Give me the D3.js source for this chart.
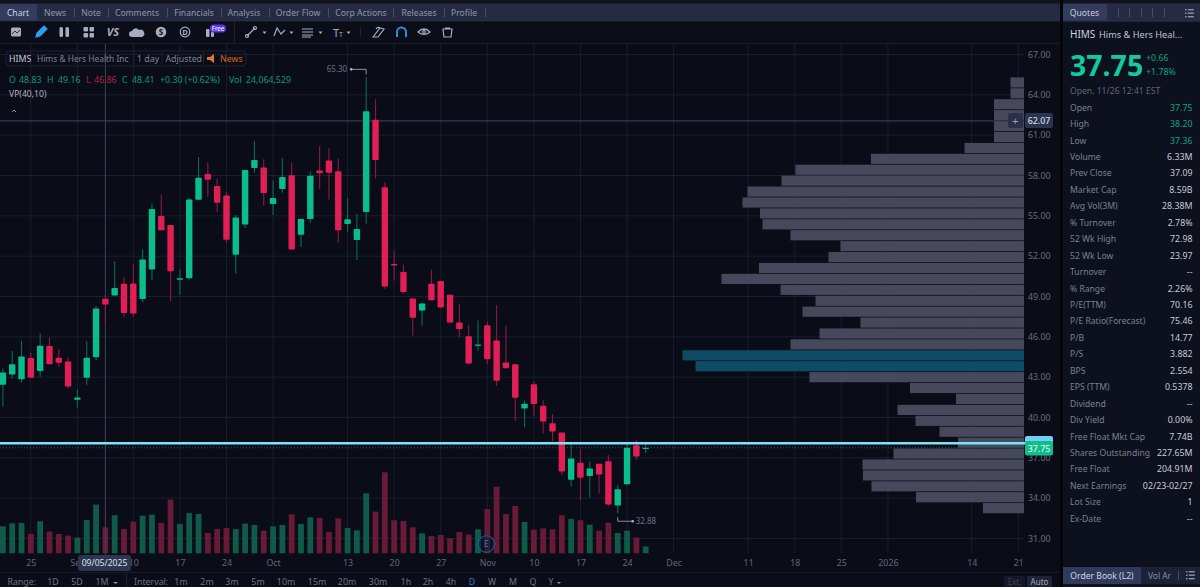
<!DOCTYPE html>
<html><head><meta charset="utf-8">
<script src="https://cdn.jsdelivr.net/npm/d3@7/dist/d3.min.js"></script>
<style>
html,body{margin:0;padding:0;background:#0a0d18;overflow:hidden}
svg{display:block}
text{font-family:"Noto Sans",sans-serif}
</style></head><body>
<svg id="c" width="1200" height="587"></svg>
<script>
const candleOpen=[42.43,43.20,42.85,44.42,43.45,45.31,44.44,44.17,41.32,42.95,44.49,48.83,49.08,49.95,49.97,48.81,51.01,54.98,54.31,50.25,50.35,56.20,58.11,57.22,56.52,52.11,54.36,58.55,58.60,55.88,56.99,58.01,53.59,54.76,58.38,59.12,58.31,54.39,53.20,55.28,62.15,57.12,51.41,50.82,48.86,47.96,49.95,50.15,49.13,47.07,46.05,45.34,46.87,45.73,44.09,43.97,40.67,42.48,40.87,39.58,38.89,35.37,36.63,35.64,36.56,36.75,33.45,35.04,37.94,37.75];
const candleHigh=[43.65,44.94,45.71,44.84,46.28,45.93,45.09,44.47,42.11,45.68,48.29,49.16,51.61,50.47,51.44,52.50,55.92,56.55,54.34,51.01,56.32,59.37,58.98,57.74,56.77,55.07,58.43,60.59,59.20,57.64,59.30,58.95,54.81,58.28,60.17,60.02,59.25,56.30,55.16,65.30,63.66,57.49,52.43,51.36,48.86,48.56,50.99,50.17,49.15,48.46,46.90,47.22,47.12,48.34,46.82,44.00,41.27,42.68,41.27,40.23,38.89,38.07,37.65,36.73,36.56,37.20,34.97,38.07,38.32,38.20];
const candleLow=[40.80,42.90,42.58,42.95,43.03,43.97,43.75,42.16,40.72,42.43,44.24,46.86,49.08,47.44,47.49,48.56,50.22,53.92,48.66,49.13,50.27,56.15,56.40,55.28,53.00,50.67,54.09,58.21,55.75,55.06,56.72,52.50,52.68,54.46,56.99,56.22,53.00,53.82,51.71,54.41,57.79,49.58,50.17,49.23,46.10,46.85,48.73,48.14,47.02,45.96,44.00,44.96,43.97,42.36,43.65,39.78,39.28,40.15,38.81,38.24,35.71,34.84,33.85,34.05,34.35,33.43,32.88,34.94,36.83,37.36];
const candleClose=[43.35,43.97,44.54,42.95,45.34,43.97,44.07,42.31,41.49,44.44,48.11,48.41,49.63,47.77,47.74,51.76,55.50,53.92,50.87,50.35,56.22,57.84,57.69,55.98,53.22,54.88,58.41,59.15,56.69,56.32,57.88,52.50,54.76,57.98,58.16,58.21,53.92,54.74,54.02,62.77,59.15,49.75,51.31,49.33,47.42,48.48,48.73,48.19,47.07,46.58,44.02,45.43,44.34,42.73,43.67,41.47,41.02,41.00,39.71,38.96,35.99,36.95,35.51,36.21,35.76,33.53,34.67,37.75,37.09,37.75];
const volumeM=[25.0,27.8,28.1,17.9,29.6,20.1,17.9,16.4,14.5,30.9,45.1,24.06,35.2,22.5,29.3,34.9,35.8,28.1,49.7,27.2,37.3,36.4,18.8,22.5,23.5,22.5,27.5,26.2,21.0,25.0,26.2,36.1,27.2,33.3,32.7,19.8,32.4,23.5,21.3,55.6,38.6,75.0,30.6,29.9,24.1,18.5,16.0,17.0,13.9,19.8,17.3,22.2,41.0,61.7,36.4,43.8,29.0,21.9,23.1,22.2,35.2,31.8,30.6,26.5,21.0,28.4,18.8,21.0,14.5,6.33];
const vpVolume=[2.7,2.7,6,6,6,6,11.9,30.6,45.7,48.5,55.3,56.3,52.8,52.3,46.7,36.7,39.1,53,60.5,48.7,41.7,44.3,32.7,40.9,46.7,68.3,65.7,42.9,22.8,13.6,25.3,21.7,16.9,13.2,26.1,32.3,32.2,30.5,21.6,8.2];
const vpValueArea=[25,26];
const priceTicks=[67,64,61,58,55,52,49,46,43,40,37,34,31];
const dateTickIndex=[3,8,14,19,24,29,37,42,47,52,57,62,67,72,80,85,90,95,104,109];
const dateTickLabels=['25','Sep','10','17','24','Oct','13','20','27','Nov','10','17','24','Dec','11','18','25','2026','14','21'];
const tabNames=['News','Note','Comments','Financials','Analysis','Order Flow','Corp Actions','Releases','Profile'];
const tabCenters=[55,91,137,194,244,298,361,419,464];
const tabSeps=[74,108,167,221,269,328,393,444,485];
const rangeNames=['1D','5D','1M'];
const rangeCenters=[53,77,102];
const intervalNames=['1m','2m','3m','5m','10m','15m','20m','30m','1h','2h','4h','D','W','M','Q','Y'];
const intervalCenters=[181,207,232,258,286,317,347,378,406,428,451,472,492,513,533,551];
const quoteLabels=['Open','High','Low','Volume','Prev Close','Market Cap','Avg Vol(3M)','% Turnover','52 Wk High','52 Wk Low','Turnover','% Range','P/E(TTM)','P/E Ratio(Forecast)','P/B','P/S','BPS','EPS (TTM)','Dividend','Div Yield','Free Float Mkt Cap','Shares Outstanding','Free Float','Next Earnings','Lot Size','Ex-Date'];
const quoteValues=['37.75','38.20','37.36','6.33M','37.09','8.59B','28.38M','2.78%','72.98','23.97','--','2.26%','70.16','75.46','14.77','3.882','2.554','0.5378','--','0.00%','7.74B','227.65M','204.91M','02/23-02/27','1','--'];
const lastPrice=37.75, crossPrice=62.07, drawnLevel=38.09, crossIndex=11, highIndex=39, lowIndex=66, vpHigh=65.30, vpLow=32.88;

const GREEN='#0bbd8a',RED='#e11f55',GW='#0a6b52',RW='#8c1b40',VG='#0f5a49',VR='#681a37';
const svg=d3.select('#c');
const F='"Noto Sans",sans-serif';
const txt=(s,x,y,t,o={})=>s.append('text').attr('x',x).attr('y',y).text(t)
  .attr('font-size',o.size||8.8).attr('fill',o.fill||'#8a8ea2').attr('text-anchor',o.anchor||'start')
  .attr('font-weight',o.weight||400).attr('font-family',F);
const rect=(s,x,y,w,h,f,r=0)=>s.append('rect').attr('x',x).attr('y',y).attr('width',w).attr('height',h).attr('fill',f).attr('rx',r);

rect(svg,0,0,1200,587,'#0a0d18');

const x=d3.scaleLinear().domain([0,109]).range([2.9,1018.3]);
const y=d3.scaleLinear().domain([31,67]).range([538.5,54.5]);
const yVol=d3.scaleLinear().domain([0,75]).range([553.3,472.3]);
const vpBand=d3.scaleBand().domain(d3.range(vpVolume.length)).range([y(vpHigh),y(vpLow)]).paddingInner(0.07);
const vpW=d3.scaleLinear().domain([0,68.3]).range([0,341.5]);
const VP_RIGHT=1024;

// grid
const plot=svg.append('g');
plot.append('g').selectAll('line').data(priceTicks).join('line')
  .attr('x1',0).attr('x2',1024).attr('y1',d=>y(d)).attr('y2',d=>y(d)).attr('stroke','#1a1e2e');
plot.append('g').selectAll('line').data(dateTickIndex).join('line')
  .attr('x1',d=>x(d)).attr('x2',d=>x(d)).attr('y1',44).attr('y2',553).attr('stroke','#1a1e2e');

// volume
plot.append('g').selectAll('rect').data(volumeM).join('rect')
  .attr('x',(d,i)=>x(i)-2.9).attr('width',5.8).attr('y',d=>yVol(d)).attr('height',d=>yVol(0)-yVol(d))
  .attr('fill',(d,i)=>candleClose[i]>=candleOpen[i]?VG:VR);

// volume profile
plot.append('g').selectAll('rect').data(vpVolume).join('rect')
  .attr('x',d=>VP_RIGHT-vpW(d)).attr('width',d=>vpW(d))
  .attr('y',(d,i)=>vpBand(i)).attr('height',vpBand.bandwidth())
  .attr('fill',(d,i)=>vpValueArea.includes(i)?'#0f4f6b':'#4b4c60').attr('fill-opacity',0.95);

// crosshair + levels
plot.append('line').attr('x1',x(crossIndex)).attr('x2',x(crossIndex)).attr('y1',44).attr('y2',556).attr('stroke','#3d4460');
plot.append('line').attr('x1',0).attr('x2',1024).attr('y1',y(crossPrice)).attr('y2',y(crossPrice)).attr('stroke','#343a55').attr('stroke-width',1.2);
plot.append('line').attr('x1',0).attr('x2',1024).attr('y1',y(lastPrice)).attr('y2',y(lastPrice)).attr('stroke','#0e6a55').attr('stroke-dasharray','1 2');

// candles
const cg=plot.append('g');
const idx=d3.range(candleOpen.length);
cg.selectAll('line').data(idx).join('line')
  .attr('x1',i=>x(i)).attr('x2',i=>x(i)).attr('y1',i=>y(candleHigh[i])).attr('y2',i=>y(candleLow[i]))
  .attr('stroke',i=>candleClose[i]>=candleOpen[i]?GW:RW).attr('stroke-width',1.1);
cg.selectAll('rect').data(idx).join('rect')
  .attr('x',i=>x(i)-3.2).attr('width',6.4).attr('rx',0.8)
  .attr('y',i=>y(Math.max(candleOpen[i],candleClose[i])))
  .attr('height',i=>Math.max(1.3,Math.abs(y(candleOpen[i])-y(candleClose[i]))))
  .attr('fill',i=>candleClose[i]>=candleOpen[i]?GREEN:RED);

plot.append('line').attr('x1',0).attr('x2',1025).attr('y1',y(drawnLevel)).attr('y2',y(drawnLevel)).attr('stroke','#7fe3f8').attr('stroke-width',2.5);

// high / low marks
const mk=plot.append('g').attr('fill','none').attr('stroke','#8a8ea2');
const hx=x(highIndex),hy=y(candleHigh[highIndex]);
mk.append('path').attr('d',d3.line()([[hx-15,hy-8],[hx,hy-8],[hx,hy-3]]));
plot.append('circle').attr('cx',hx-15).attr('cy',hy-8).attr('r',1.3).attr('fill','#b0b4c4');
txt(plot,hx-19,hy-5.5,candleHigh[highIndex].toFixed(2),{anchor:'end',size:8,fill:'#6d7184'});
const lx=x(lowIndex),ly=y(candleLow[lowIndex]);
mk.append('path').attr('d',d3.line()([[lx,ly+4],[lx,ly+8],[lx+15,ly+8]]));
plot.append('circle').attr('cx',lx+15).attr('cy',ly+8).attr('r',1.3).attr('fill','#b0b4c4');
txt(plot,lx+18,ly+11,candleLow[lowIndex].toFixed(2),{size:8,fill:'#6d7184'});

// earnings marker
plot.append('circle').attr('cx',486.3).attr('cy',544).attr('r',8.2).attr('fill','#0a1a2c').attr('fill-opacity',.55).attr('stroke','#13609a').attr('stroke-width',1.1);
txt(plot,486.3,547,'E',{anchor:'middle',size:8.5,fill:'#2a7fc0'});

// axes
const yAxis=d3.axisRight(y).tickValues(priceTicks).tickSize(0).tickPadding(0).tickFormat(d=>d.toFixed(2));
const ya=svg.append('g').attr('transform','translate(1028,0)').call(yAxis);
ya.select('.domain').remove();
ya.selectAll('text').attr('font-size',8.8).attr('fill','#6a6e80').attr('font-family',F);
const xAxis=d3.axisBottom(x).tickValues(dateTickIndex).tickSize(0).tickPadding(0).tickFormat((d,i)=>dateTickLabels[i]);
const xa=svg.append('g').attr('transform','translate(0,560)').call(xAxis);
xa.select('.domain').remove();
xa.selectAll('text').attr('font-size',8.8).attr('fill','#62667a').attr('font-family',F);

// price tags
rect(svg,1008,113,15,15,'#2a3048',2);
txt(svg,1015.5,124.5,'+',{anchor:'middle',size:11,fill:'#9aa0b8'});
rect(svg,1025,113,28,15,'#2a3350',2);
txt(svg,1039,123.8,crossPrice.toFixed(2),{anchor:'middle',fill:'#d8dbe6',weight:500});
rect(svg,1025,436,28,14,'#6fcff5',2);
rect(svg,1025,441,28,14.5,'#10bd8c',2);
txt(svg,1039,451.5,lastPrice.toFixed(2),{anchor:'middle',fill:'#e8fff8'});

// date tag
rect(svg,78,555,53,16,'#2d3650',3);
txt(svg,104.5,566,'09/05/2025',{anchor:'middle',size:8.6,fill:'#dfe2ec'});

// top bars
rect(svg,0,0,1200,3.5,'#11131f');
rect(svg,0,3.5,1200,17,'#262b44');
rect(svg,0,20.5,1200,1,'#3a3f5a');
rect(svg,0,21.5,1060,22,'#0b0e18');
rect(svg,0,43,1060,1,'#171b2a');
rect(svg,0,4,37,16.5,'#333c5c',1);
txt(svg,18,15.8,'Chart',{anchor:'middle',size:8.6,fill:'#d0d4e2'});
tabNames.forEach((n,i)=>txt(svg,tabCenters[i],15.8,n,{anchor:'middle',size:8.6,fill:'#9094aa'}));
tabSeps.forEach(s=>rect(svg,s,8,1,9,'#474c66'));

// toolbar icons
const ic=svg.append('g').attr('fill','none').attr('stroke','#a8acbe').attr('stroke-width',1.2);
rect(svg,11,27.5,10,9,'#a8acbe',1.5);
svg.append('path').attr('d','M12 34l3-3 2 2 3-3').attr('fill','none').attr('stroke','#2b3048');
ic.append('path').attr('d','M36 37l1-4 7-7 3 3-7 7z').attr('fill','#2aa0ee').attr('stroke','#2aa0ee');
rect(svg,59.5,27,3.5,10,'#a8acbe',1.5);rect(svg,65.5,27,3.5,10,'#a8acbe',1.5);
rect(svg,83.5,27,4.5,4.5,'#a8acbe',1);rect(svg,89.5,27,4.5,4.5,'#a8acbe',1);
rect(svg,83.5,33,4.5,4.5,'#a8acbe',1);rect(svg,89.5,33,4.5,4.5,'#a8acbe',1);
txt(svg,113,36,'VS',{anchor:'middle',size:11,weight:700,fill:'#a8acbe'}).attr('font-style','italic');
svg.append('path').attr('d','M132 37a3 3 0 0 1 0-6 4 4 0 0 1 7-1 3.5 3.5 0 0 1 3 7z').attr('fill','#a8acbe');
svg.append('circle').attr('cx',161).attr('cy',32).attr('r',5.3).attr('fill','#a8acbe');
txt(svg,161,35,'S',{anchor:'middle',size:8,weight:700,fill:'#0b0e18'});
ic.append('circle').attr('cx',185).attr('cy',32).attr('r',4.8);
txt(svg,185,35,'D',{anchor:'middle',size:7.5,weight:700,fill:'#a8acbe'});
rect(svg,206,29,3.5,8,'#a8acbe',1);rect(svg,211,32,3,5,'#a8acbe',1);
rect(svg,210,24.5,16,8,'#5a35e8',4);
txt(svg,218,31,'Free',{anchor:'middle',size:6.2,fill:'#ffffff'});
rect(svg,234,22,1,21,'#1c2030');
ic.append('path').attr('d','M247 36l8-8');ic.append('circle').attr('cx',247).attr('cy',36).attr('r',1.5);ic.append('circle').attr('cx',255).attr('cy',28).attr('r',1.5);
ic.append('path').attr('d','M274 36l3-8 4 6 4-4');
ic.append('path').attr('d','M302 29h11M302 32h11M302 35h11M302 37h9');
txt(svg,336,37,'T',{anchor:'middle',size:11,fill:'#a8acbe'});
txt(svg,341,37,'T',{anchor:'middle',size:7,fill:'#a8acbe'});
[264,291,320,348].forEach(a=>svg.append('path').attr('d',`M${a-1.5} 31.5h4l-2 2.4z`).attr('fill','#a8acbe'));
rect(svg,360,27,1,10,'#1c2030');
ic.append('path').attr('d','M373 37l7-9 4 1-6 8zM376 29a3 3 0 0 1 4-1');
svg.append('path').attr('d','M397 37v-5a4.5 4.5 0 0 1 9 0v5').attr('fill','none').attr('stroke','#2b8fe0').attr('stroke-width',2);
ic.append('path').attr('d','M418 32q6-6 12 0q-6 5-12 0z');ic.append('circle').attr('cx',424).attr('cy',32).attr('r',1.4);
ic.append('path').attr('d','M443 29h9l-1 8h-7zM445 28h5');

// chart header
const hb=svg.append('g');
hb.append('rect').attr('x',6).attr('y',51).attr('width',240).attr('height',15).attr('rx',3).attr('fill','none').attr('stroke','#1c2030');
[133.5,161.5,203].forEach(s=>rect(hb,s,52,1,13,'#1c2030'));
txt(hb,9,62,'HIMS',{fill:'#c6c9d6'});
txt(hb,37,62,'Hims & Hers Health Inc',{fill:'#7f8396',size:8.4});
txt(hb,137,62,'1 day',{fill:'#7f8396'});
txt(hb,165.5,62,'Adjusted',{fill:'#7f8396'});
hb.append('path').attr('d','M207 57h3l4-3v9l-4-3h-3z').attr('fill','#e0782a');
txt(hb,220,62,'News',{fill:'#d8681f'});
const G2='#0a9a75',R2='#b81e4b';
[['O',9,G2],['48.83',19,G2],['H',47,G2],['49.16',58,G2],['L',86,R2],['46.86',94,R2],['C',122,G2],['48.41',132,G2],['+0.30 (+0.62%)',160,G2],['Vol',229,G2],['24,064,529',246,G2]]
  .forEach(d=>txt(svg,d[1],83,d[0],{fill:d[2]}));
txt(svg,9,97,'VP(40,10)',{fill:'#b0b3c2',size:8.6});
svg.append('path').attr('d','M12 112l2-2 2 2').attr('fill','none').attr('stroke','#8a8ea2');

// bottom bar
rect(svg,0,572,1060,15,'#0a0d18');
rect(svg,0,572,1060,1,'#171b2a');
rect(svg,126,574,1,13,'#1c2030');
txt(svg,7.5,585,'Range:',{fill:'#6e7286'});
rangeNames.forEach((n,i)=>txt(svg,rangeCenters[i],585,n,{anchor:'middle',fill:'#6e7286'}));
svg.append('path').attr('d','M113 582h5l-2.5 2z').attr('fill','#9094aa');
txt(svg,134,585,'Interval:',{fill:'#6e7286'});
intervalNames.forEach((n,i)=>txt(svg,intervalCenters[i],585,n,{anchor:'middle',fill:n==='D'?'#1e7fd0':'#6e7286'}));
svg.append('path').attr('d','M557 582h4l-2 2z').attr('fill','#9094aa');
rect(svg,1004,576,21,11,'#14182a',1);
txt(svg,1014.5,585,'Ext.',{anchor:'middle',size:8,fill:'#3f4358'});
rect(svg,1027,576,25,11,'#1e2338',1);
txt(svg,1039.5,585,'Auto',{anchor:'middle',size:8,fill:'#a8acbe'});

// right panel
rect(svg,1060,0,3,587,'#05060c');
rect(svg,1063,22,137,565,'#0d101d');
rect(svg,1063,3.5,137,17,'#262b44');
rect(svg,1063,4,44,16.5,'#333c5c',1);
txt(svg,1084.5,15.8,'Quotes',{anchor:'middle',size:8.6,fill:'#c6cadb'});
[1118,1129,1141,1152,1164].forEach(s=>rect(svg,s,8,1,9,'#474c66'));
const burger=(xp,yp)=>[0,3.5,7].forEach(d=>{rect(svg,xp,yp+d-1,1.6,1.4,'#9094aa');rect(svg,xp+2.8,yp+d-1,6,1.4,'#9094aa');});
burger(1185,10);
txt(svg,1070,38,'HIMS',{size:10,fill:'#d0d3de'});
txt(svg,1099,38,'Hims & Hers Heal...',{size:9.2,fill:'#c0c3d0'});
txt(svg,1070,76,lastPrice.toFixed(2),{size:28.5,weight:700,fill:'#12c9a0'});
txt(svg,1146,61,'+0.66',{size:8.8,fill:'#0aa67e'});
txt(svg,1146,74.5,'+1.78%',{size:8.8,fill:'#0aa67e'});
txt(svg,1070,94,'Open, 11/26 12:41 EST',{size:8.6,fill:'#62667a'});
quoteLabels.forEach((l,i)=>{
  const yy=110.7+i*16.44;
  txt(svg,1070,yy,l,{size:8.6,fill:'#7c8094'});
  txt(svg,1192.5,yy,quoteValues[i],{size:8.8,anchor:'end',fill:i<3?'#0aa67e':'#c8cbd6'});
});
rect(svg,1063,567,137,17,'#1c2136');
rect(svg,1063,567,78,17,'#303a5c');
rect(svg,1063,584,137,3,'#0d101d');
txt(svg,1102,578.8,'Order Book (L2)',{anchor:'middle',size:8.6,fill:'#d0d4e2'});
txt(svg,1148,578.8,'Vol Ar',{size:8.4,fill:'#8a8ea2'});
rect(svg,1178,571,1,9,'#474c66');
burger(1186,572);
</script>
</body></html>
